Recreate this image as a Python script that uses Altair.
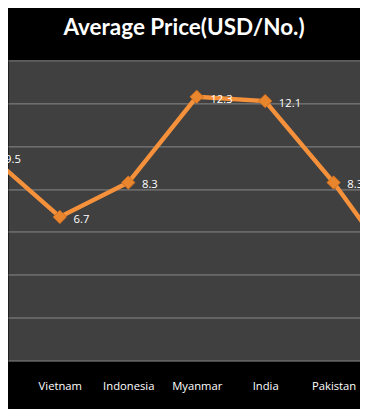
import altair as alt
import pandas as pd

categories = ["Cambodia", "Vietnam", "Indonesia", "Myanmar", "India", "Pakistan", "Bangladesh"]
prices = [9.5, 6.7, 8.3, 12.3, 12.1, 8.3, 3.9]
grid_values = [0, 2, 4, 6, 8, 10, 12, 14]

df = pd.DataFrame({"idx": list(range(len(categories))), "country": categories, "price": prices})
df["label"] = df["price"].map(lambda v: f"{v:.1f}")

label_expr = "[" + ",".join(f"'{c}'" for c in categories) + "][datum.value]"

x = alt.X(
    "idx:Q",
    scale=alt.Scale(domain=[0.2429, 5.3857], nice=False, zero=False),
    axis=alt.Axis(
        values=list(range(len(categories))),
        labelExpr=label_expr,
        title=None,
        ticks=False,
        domain=False,
        grid=False,
        labelFlush=False,
        labelOverlap=False,
        labelColor="#ffffff",
        labelFont="Open Sans",
        labelFontSize=11.5,
        labelPadding=21,
    ),
)
y = alt.Y(
    "price:Q",
    scale=alt.Scale(domain=[0, 14], nice=False, zero=True),
    axis=alt.Axis(
        values=grid_values,
        labels=False,
        ticks=False,
        domain=False,
        title=None,
        grid=True,
        gridColor="#8a8a8a",
        gridWidth=1,
        gridOpacity=1,
    ),
)

base = alt.Chart(df).encode(x=x, y=y)

line = base.mark_line(clip=True, color="#F5913A", strokeWidth=4.5)
points = base.mark_point(
    clip=True, shape="diamond", filled=True, size=190, color="#E9852C", opacity=1,
    stroke="#C96A1C", strokeWidth=0.8,
)
texts = base.mark_text(
    clip=True, align="left", baseline="middle", dx=14, dy=3,
    color="#ffffff", font="Open Sans", fontSize=11.5,
).encode(text="label:N")

chart = (
    alt.layer(line, points, texts)
    .properties(
        width=360,
        height=307,
        autosize=alt.AutoSizeParams(type="none"),
        padding={"top": 49, "bottom": 45, "left": 0, "right": 0},
        background="#000000",
        title=alt.Title(
            "Average Price(USD/No.)",
            color="#ffffff",
            font="Lato",
            fontSize=23,
            fontWeight="bold",
            anchor="middle",
            dx=0,
            dy=-17,
        ),
    )
    .configure_view(fill="#404040", stroke="transparent")
)

chart.save("out.html", embed_options={"renderer": "svg", "actions": False})
